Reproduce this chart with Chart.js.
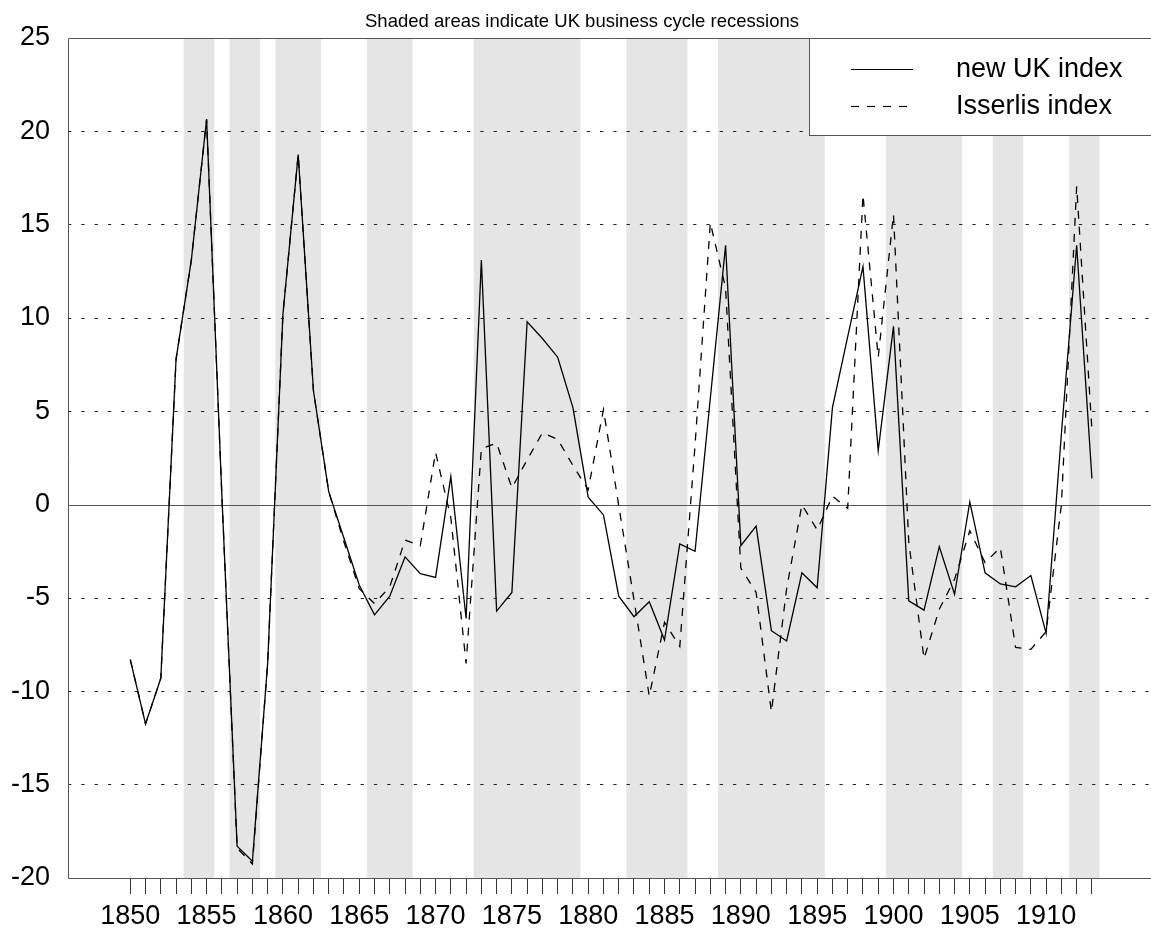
<!DOCTYPE html>
<html>
<head>
<meta charset="utf-8">
<script src="https://cdn.jsdelivr.net/npm/chart.js@4.4.0/dist/chart.umd.min.js"></script>
<style>
  html, body { margin: 0; padding: 0; background: #fff; overflow: hidden; }
</style>
</head>
<body>
<canvas id="chart" width="1151" height="933"></canvas>
<script>
// --- Data ---
const years = [
  1850, 1851, 1852, 1853, 1854, 1855, 1856, 1857, 1858, 1859,
  1860, 1861, 1862, 1863, 1864, 1865, 1866, 1867, 1868, 1869,
  1870, 1871, 1872, 1873, 1874, 1875, 1876, 1877, 1878, 1879,
  1880, 1881, 1882, 1883, 1884, 1885, 1886, 1887, 1888, 1889,
  1890, 1891, 1892, 1893, 1894, 1895, 1896, 1897, 1898, 1899,
  1900, 1901, 1902, 1903, 1904, 1905, 1906, 1907, 1908, 1909,
  1910, 1911, 1912, 1913
];

const newUkIndex = [
  -8.3, -11.75, -9.3, 7.8, 13.1, 20.65, 0.5, -18.3, -19.1, -8.5,
  10.2, 18.75, 6.1, 0.7, -1.8, -4.3, -5.9, -4.9, -2.8, -3.7,
  -3.9, 1.5, -6.1, 13.1, -5.7, -4.7, 9.8, 8.9, 7.9, 5.2,
  0.4, -0.55, -4.9, -6.0, -5.2, -7.25, -2.1, -2.5, 5.7, 13.9,
  -2.2, -1.15, -6.75, -7.3, -3.65, -4.45, 5.2, 9.0, 12.75, 2.9,
  9.55, -5.15, -5.65, -2.25, -4.8, 0.15, -3.65, -4.25, -4.4, -3.8,
  -6.9, 3.8, 13.9, 1.4
];

const isserlisIndex = [
  -8.3, -11.75, -9.3, 7.8, 13.1, 20.65, 0.5, -18.4, -19.25, -8.5,
  10.2, 18.75, 6.1, 0.7, -2.0, -4.5, -5.3, -4.4, -1.9, -2.2,
  2.8, -0.7, -8.5, 3.0, 3.3, 0.9, 2.4, 3.85, 3.5, 2.1,
  0.8, 5.1, -0.05, -5.1, -10.25, -6.3, -7.6, 3.2, 15.1, 11.6,
  -3.4, -4.7, -11.1, -4.5, 0.0, -1.35, 0.45, -0.2, 16.6, 7.9,
  15.55, -2.0, -8.25, -5.6, -4.0, -1.4, -3.1, -2.3, -7.65, -7.75,
  -6.8, 0.0, 17.05, 4.0
];

// recession years (first and last year of each shaded band)
const recessionStart = [1854, 1857, 1860, 1866, 1873, 1883, 1889, 1900, 1907, 1912];
const recessionEnd   = [1855, 1858, 1862, 1868, 1879, 1886, 1895, 1904, 1908, 1913];

const yTicks = [-20, -15, -10, -5, 0, 5, 10, 15, 20, 25];
const seriesLabels = ['new UK index', 'Isserlis index'];
const titleText = 'Shaded areas indicate UK business cycle recessions';

const FONT = '"Liberation Sans", Arial, Helvetica, sans-serif';

// --- Plugins ---
const backgroundBands = {
  id: 'backgroundBands',
  beforeDraw(chart) {
    const { ctx, chartArea, scales: { x } } = chart;
    ctx.save();
    ctx.fillStyle = '#fff';
    ctx.fillRect(0, 0, chart.width, chart.height);
    ctx.fillStyle = '#e5e5e5';
    recessionStart.forEach((s, i) => {
      const x1 = x.getPixelForValue(s - 0.5);
      const x2 = x.getPixelForValue(recessionEnd[i] + 0.5);
      ctx.fillRect(x1, chartArea.top, x2 - x1, chartArea.bottom - chartArea.top);
    });
    ctx.restore();
  }
};

const frameAndZero = {
  id: 'frameAndZero',
  beforeDatasetsDraw(chart) {
    const { ctx, chartArea, scales: { y } } = chart;
    ctx.save();
    ctx.setLineDash([]);
    ctx.lineWidth = 1;
    ctx.strokeStyle = '#555';
    const y0 = Math.round(y.getPixelForValue(0)) + 0.5;
    ctx.beginPath();
    ctx.moveTo(chartArea.left, y0);
    ctx.lineTo(chartArea.right, y0);
    ctx.stroke();
    const l = Math.round(chartArea.left) + 0.5;
    const t = Math.round(chartArea.top) + 0.5;
    const b = Math.round(chartArea.bottom) + 0.5;
    ctx.beginPath();
    ctx.moveTo(chartArea.right, t);
    ctx.lineTo(l, t);
    ctx.lineTo(l, b);
    ctx.lineTo(chartArea.right, b);
    ctx.stroke();
    ctx.restore();
  }
};

const boxLegendAndTitle = {
  id: 'boxLegendAndTitle',
  afterDraw(chart) {
    const { ctx, chartArea } = chart;
    ctx.save();
    // title
    ctx.fillStyle = '#000';
    ctx.font = '18.5px ' + FONT;
    ctx.textAlign = 'center';
    ctx.textBaseline = 'alphabetic';
    ctx.fillText(titleText, 582, 26.5);

    // legend box
    const bx = 809.5, by = Math.round(chartArea.top) + 0.5, bh = 97;
    ctx.fillStyle = '#fff';
    ctx.fillRect(bx, by, 400, bh);
    ctx.strokeStyle = '#555';
    ctx.lineWidth = 1;
    ctx.strokeRect(bx, by, 400, bh);

    const rows = [69, 106];
    chart.data.datasets.forEach((ds, i) => {
      ctx.strokeStyle = '#000';
      ctx.lineWidth = 1.2;
      ctx.setLineDash(ds.borderDash || []);
      ctx.beginPath();
      ctx.moveTo(851, rows[i] + 0.5);
      ctx.lineTo(913, rows[i] + 0.5);
      ctx.stroke();
      ctx.setLineDash([]);
      ctx.fillStyle = '#000';
      ctx.font = '27px ' + FONT;
      ctx.textAlign = 'left';
      ctx.textBaseline = 'middle';
      ctx.fillText(ds.label, 956, rows[i] + 1);
    });
    ctx.restore();
  }
};

// --- Chart ---
const ctx = document.getElementById('chart').getContext('2d');

new Chart(ctx, {
  type: 'line',
  data: {
    datasets: [
      {
        label: seriesLabels[0],
        data: years.map((yr, i) => ({ x: yr, y: newUkIndex[i] })),
        borderColor: '#000',
        borderWidth: 1.3,
        pointRadius: 0,
        tension: 0,
        fill: false
      },
      {
        label: seriesLabels[1],
        data: years.map((yr, i) => ({ x: yr, y: isserlisIndex[i] })),
        borderColor: '#000',
        borderWidth: 1.3,
        borderDash: [8, 8],
        pointRadius: 0,
        tension: 0,
        fill: false
      }
    ]
  },
  options: {
    responsive: false,
    animation: false,
    devicePixelRatio: 1,
    layout: { padding: { top: 38, left: 0, right: 0, bottom: 0 } },
    plugins: {
      legend: { display: false },
      tooltip: { enabled: false },
      title: { display: false }
    },
    scales: {
      x: {
        type: 'linear',
        min: 1845.92,
        max: 1916.87,
        afterBuildTicks: axis => { axis.ticks = years.map(v => ({ value: v })); },
        afterFit: s => { s.height = 55; },
        ticks: {
          autoSkip: false,
          minRotation: 0,
          maxRotation: 0,
          padding: 6,
          color: '#000',
          font: { size: 27, family: FONT },
          callback: v => (v % 5 === 0 ? String(v) : '')
        },
        grid: {
          drawOnChartArea: false,
          drawTicks: true,
          tickLength: 16,
          tickColor: '#333',
          tickWidth: 1
        },
        border: { display: false }
      },
      y: {
        min: -20,
        max: 25,
        afterBuildTicks: axis => { axis.ticks = yTicks.map(v => ({ value: v })); },
        afterFit: s => { s.width = 68; },
        ticks: {
          padding: 18,
          color: '#000',
          font: { size: 27, family: FONT },
          callback: v => String(v)
        },
        grid: {
          drawTicks: false,
          lineWidth: 1,
          color: c => (c.tick && (c.tick.value === 0 || c.tick.value === 25 || c.tick.value === -20)) ? 'rgba(0,0,0,0)' : '#222'
        },
        border: { display: false, dash: [3.3, 10] }
      }
    }
  },
  plugins: [backgroundBands, frameAndZero, boxLegendAndTitle]
});
</script>
</body>
</html>
